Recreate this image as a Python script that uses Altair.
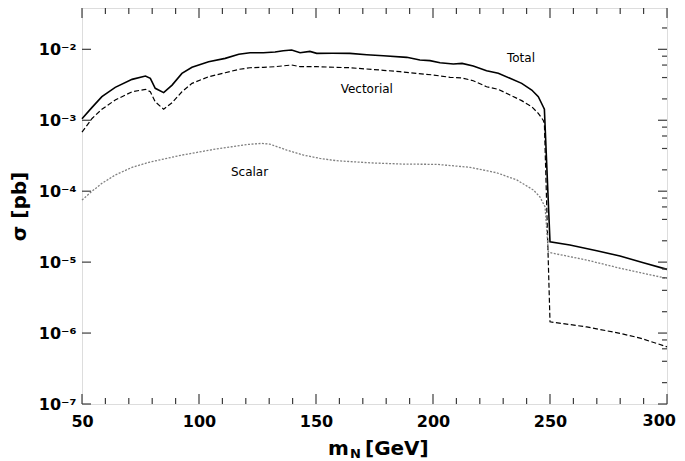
import altair as alt
import pandas as pd

# ---------------- data ----------------
total_x = [50, 54.3, 58.5, 64.2, 71.4, 77.1, 79.2, 81.3, 84.9, 88.5, 92.7, 97, 104.1, 111.2, 117,
           121.8, 127.5, 132.5, 136, 139.6, 143.2, 147.4, 150.3, 157, 164.5, 171.7, 178.8, 188.8,
           194.4, 198.7, 203, 208.7, 212.4, 217.2, 222.9, 227.9, 232.9, 237.9, 242.2, 245, 247.1,
           247.6, 250, 258.5, 270, 279.9, 289.9, 300]
total_y = [1.05e-3, 1.52e-3, 2.15e-3, 2.91e-3, 3.77e-3, 4.2e-3, 3.9e-3, 2.82e-3, 2.45e-3, 3.13e-3,
           4.58e-3, 5.57e-3, 6.68e-3, 7.46e-3, 8.5e-3, 8.96e-3, 8.96e-3, 9.16e-3, 9.57e-3, 9.77e-3,
           8.96e-3, 9.36e-3, 8.78e-3, 8.8e-3, 8.78e-3, 8.4e-3, 8.13e-3, 7.71e-3, 7.07e-3, 6.92e-3,
           6.48e-3, 6.21e-3, 6.34e-3, 5.82e-3, 5.0e-3, 4.59e-3, 3.9e-3, 3.31e-3, 2.67e-3, 2.15e-3,
           1.55e-3, 1.43e-3, 1.93e-5, 1.74e-5, 1.45e-5, 1.22e-5, 9.8e-6, 7.9e-6]

vect_x = [50, 54.3, 58.5, 64.2, 71.4, 77.1, 79.2, 81.3, 84.9, 88.5, 92.7, 97, 104.1, 111.2, 117,
          121.8, 127.5, 132.5, 139.6, 143.2, 150.3, 164.5, 171.7, 178.8, 185.9, 193, 200.1, 207.3,
          212.4, 217.2, 222.9, 227.9, 232.9, 237.9, 242.2, 245, 247.1, 247.6, 250, 265.7, 279.9,
          288.5, 300]
vect_y = [6.8e-4, 1.06e-3, 1.43e-3, 1.93e-3, 2.52e-3, 2.73e-3, 2.52e-3, 1.82e-3, 1.43e-3, 1.77e-3,
          2.52e-3, 3.31e-3, 4.11e-3, 4.67e-3, 5.22e-3, 5.5e-3, 5.57e-3, 5.69e-3, 6.01e-3, 5.69e-3,
          5.69e-3, 5.5e-3, 5.28e-3, 5.06e-3, 4.84e-3, 4.58e-3, 4.35e-3, 4.03e-3, 3.95e-3, 3.61e-3,
          2.97e-3, 2.73e-3, 2.27e-3, 1.89e-3, 1.55e-3, 1.25e-3, 1.0e-3, 9.0e-4, 1.44e-6, 1.22e-6,
          9.9e-7, 8.5e-7, 6.4e-7]

scal_x = [50, 54.3, 58.5, 64.2, 71.4, 78.5, 85.6, 92.7, 99.9, 107, 114.1, 121.2, 126.9, 130.3,
          137.5, 144.6, 151.7, 158.8, 173.1, 187.3, 201.6, 215.8, 227.2, 235.8, 242.9, 245.7,
          247.9, 249.3, 250, 265.7, 279.9, 300]
scal_y = [7.5e-5, 1.0e-4, 1.29e-4, 1.69e-4, 2.17e-4, 2.55e-4, 2.87e-4, 3.23e-4, 3.56e-4, 3.92e-4,
          4.23e-4, 4.57e-4, 4.72e-4, 4.6e-4, 3.8e-4, 3.23e-4, 2.9e-4, 2.69e-4, 2.51e-4, 2.41e-4,
          2.39e-4, 2.17e-4, 1.82e-4, 1.44e-4, 1.04e-4, 8.3e-5, 6.0e-5, 1.4e-5, 1.36e-5, 1.07e-5,
          8.2e-6, 5.9e-6]

ann_text = ["Total", "Vectorial", "Scalar"]
ann_x = [237.6, 171.7, 121.6]
ann_y = [6.73e-3, 2.42e-3, 1.64e-4]

x_major = [50, 100, 150, 200, 250, 300]
x_minor = [60, 70, 80, 90, 110, 120, 130, 140, 160, 170, 180, 190, 210, 220, 230, 240,
           260, 270, 280, 290]
y_major = [1e-7, 1e-6, 1e-5, 1e-4, 1e-3, 1e-2]
y_major_labels = ["10⁻⁷", "10⁻⁶", "10⁻⁵", "10⁻⁴", "10⁻³", "10⁻²"]
y_minor = [2e-7, 4e-7, 6e-7, 8e-7, 2e-6, 4e-6, 6e-6, 8e-6, 2e-5, 4e-5, 6e-5, 8e-5,
           2e-4, 4e-4, 6e-4, 8e-4, 2e-3, 4e-3, 6e-3, 8e-3, 2e-2]
x_title_parts = ["m", "N", "[GeV]"]

# ---------------- layout ----------------
W, H = 585, 396
FRAME = "#3d3d3d"
FONT = "DejaVu Sans"

xs = alt.Scale(domain=[50, 300], nice=False, zero=False)
ys = alt.Scale(type="log", domain=[1e-7, 0.03824], nice=False)

expr = "'" + y_major_labels[-1] + "'"
for v, lab in reversed(list(zip(y_major[:-1], y_major_labels[:-1]))):
    expr = f"datum.value < {v * 3:g} ? '{lab}' : " + expr

# the last x label sits at the page edge; it is drawn as a text mark nudged inward
x_axis = alt.Axis(values=x_major, ticks=False, tickSize=0, domain=False, grid=False,
                  labelFont=FONT, labelFontWeight="bold", labelFontSize=16, labelPadding=9,
                  labelColor="black", labelFlush=False, labelOverlap=False, title=None,
                  labelExpr=f"datum.value >= {x_major[-1]} ? '' : datum.label")
y_axis = alt.Axis(values=y_major, ticks=False, tickSize=0, domain=False, grid=False,
                  labelExpr=expr, labelFont=FONT, labelFontWeight="bold", labelFontSize=16,
                  labelPadding=6, labelColor="black", labelFlush=False, labelOverlap=False,
                  title="σ [pb]", titleFont=FONT, titleFontWeight="bold", titleFontSize=20,
                  titleColor="black", titleX=-63, titleY=198, titleAngle=270,
                  titleAlign="center", titleBaseline="middle")


def X(field="m"):
    return alt.X(f"{field}:Q", scale=xs, axis=x_axis, title=None)


def Y(field="s"):
    return alt.Y(f"{field}:Q", scale=ys, axis=y_axis, title="σ [pb]")


df_total = pd.DataFrame({"m": total_x, "s": total_y})
df_vect = pd.DataFrame({"m": vect_x, "s": vect_y})
df_scal = pd.DataFrame({"m": scal_x, "s": scal_y})
df_ann = pd.DataFrame({"t": ann_text, "m": ann_x, "s": ann_y})

total = alt.Chart(df_total).mark_line(color="black", strokeWidth=1.6).encode(x=X(), y=Y())
vect = alt.Chart(df_vect).mark_line(color="black", strokeWidth=1.2,
                                    strokeDash=[5, 2.5]).encode(x=X(), y=Y())
scal = alt.Chart(df_scal).mark_line(color="#808080", strokeWidth=1.3,
                                    strokeDash=[2, 1.5]).encode(x=X(), y=Y())
ann = alt.Chart(df_ann).mark_text(font=FONT, fontSize=12, color="black", align="center",
                                  baseline="alphabetic").encode(x=X(), y=Y(), text="t:N")

df_xmaj = pd.DataFrame({"v": x_major})
df_xmin = pd.DataFrame({"v": x_minor})
df_ymaj = pd.DataFrame({"v": y_major})
df_ymin = pd.DataFrame({"v": y_minor})
df_xlast = pd.DataFrame({"v": x_major[-1:], "t": [str(x_major[-1])]})


def xticks(df, length):
    bottom = alt.Chart(df).mark_rule(color=FRAME, strokeWidth=1.2).encode(
        x=X("v"), y=alt.value(H), y2=alt.value(H - length))
    top = alt.Chart(df).mark_rule(color=FRAME, strokeWidth=1.2).encode(
        x=X("v"), y=alt.value(0), y2=alt.value(length))
    return [bottom, top]


left_ticks = alt.Chart(df_ymaj).mark_rule(color=FRAME, strokeWidth=1.2).encode(
    y=Y("v"), x=alt.value(0), x2=alt.value(9))
right_major = alt.Chart(df_ymaj).mark_rule(color=FRAME, strokeWidth=1.2).encode(
    y=Y("v"), x=alt.value(W - 9), x2=alt.value(W))
right_minor = alt.Chart(df_ymin).mark_rule(color=FRAME, strokeWidth=1.2).encode(
    y=Y("v"), x=alt.value(W - 5), x2=alt.value(W))

last_label = alt.Chart(df_xlast).mark_text(font=FONT, fontWeight="bold", fontSize=16,
                                           color="black", align="right", baseline="top",
                                           dx=9).encode(
    x=X("v"), y=alt.value(H + 9), text="t:N")

df_one = pd.DataFrame({"k": [0]})
title_m = alt.Chart(df_one).mark_text(text=x_title_parts[0], font=FONT, fontWeight="bold",
                                      fontSize=20, color="black", align="left",
                                      baseline="alphabetic").encode(
    x=alt.value(246), y=alt.value(447))
title_n = alt.Chart(df_one).mark_text(text=x_title_parts[1], font=FONT, fontWeight="bold",
                                      fontSize=13, color="black", align="left",
                                      baseline="alphabetic").encode(
    x=alt.value(268), y=alt.value(450))
title_gev = alt.Chart(df_one).mark_text(text=x_title_parts[2], font=FONT, fontWeight="bold",
                                        fontSize=20, color="black", align="left",
                                        baseline="alphabetic").encode(
    x=alt.value(283), y=alt.value(447))

layers = [total, vect, scal, ann] + xticks(df_xmaj, 10) + xticks(df_xmin, 6) + \
    [left_ticks, right_major, right_minor, last_label, title_m, title_n, title_gev]

chart = alt.layer(*layers).properties(
    width=W, height=H,
    autosize=alt.AutoSizeParams(type="none"),
    padding={"left": 74, "top": 0, "right": 10, "bottom": 57},
).configure_view(stroke=FRAME, strokeWidth=1.3).configure(font=FONT)

chart.save("out.html", embed_options={"renderer": "svg", "actions": False})
